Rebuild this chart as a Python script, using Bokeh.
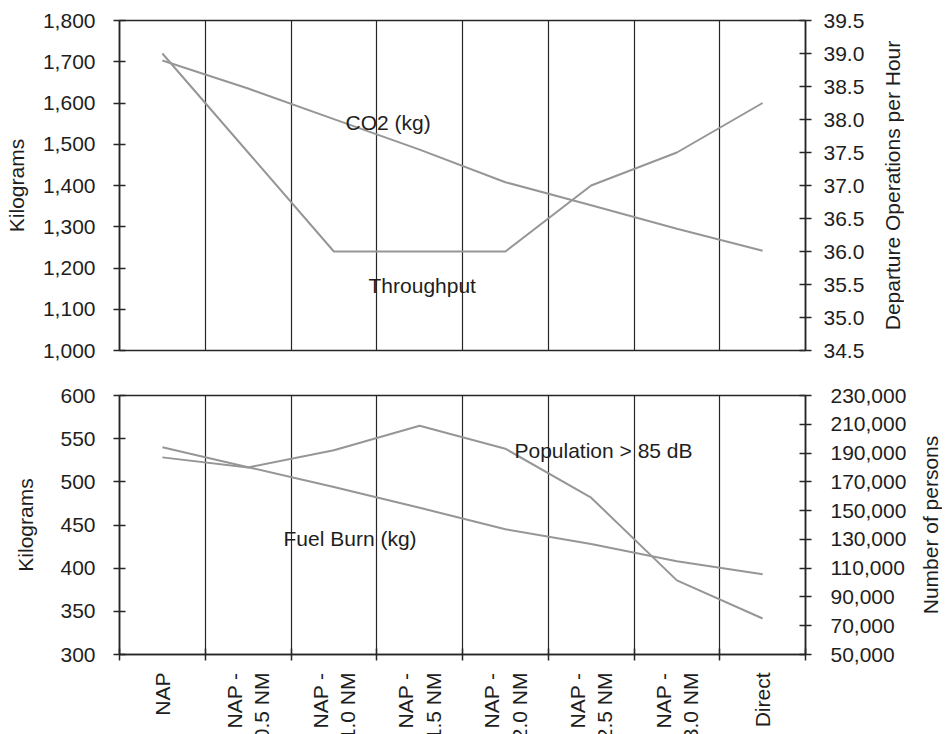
import math
from bokeh.plotting import figure
from bokeh.layouts import column, row
from bokeh.models import Range1d, LinearAxis, FixedTicker, NumeralTickFormatter, Label
from bokeh.embed import file_html
from bokeh.resources import INLINE

# ---- data ----
categories = ["NAP", "NAP -\n0.5 NM", "NAP -\n1.0 NM", "NAP -\n1.5 NM",
              "NAP -\n2.0 NM", "NAP -\n2.5 NM", "NAP -\n3.0 NM", "Direct"]
co2_kg = [1703, 1635, 1561, 1487, 1408, 1352, 1295, 1242]
throughput = [39.0, 37.5, 36.0, 36.0, 36.0, 37.0, 37.5, 38.25]
fuel_burn_kg = [540, 517, 494, 470, 445, 428, 408, 393]
population_85db = [187000, 180000, 192000, 209000, 193000, 159000, 101500, 75000]

top_left_ticks = [1000, 1100, 1200, 1300, 1400, 1500, 1600, 1700, 1800]
top_right_ticks = [34.5, 35.0, 35.5, 36.0, 36.5, 37.0, 37.5, 38.0, 38.5, 39.0, 39.5]
bot_left_ticks = [300, 350, 400, 450, 500, 550, 600]
bot_right_ticks = [50000, 70000, 90000, 110000, 130000, 150000, 170000, 190000, 210000, 230000]

# ---- style ----
FONT = "Liberation Sans"
FS = "21px"
TXT = "#1e1e1e"
AX = "#262626"
LINE = "#969696"

n = len(categories)
xc = [i + 0.5 for i in range(n)]          # category centres on the x scale
bounds = list(range(n + 1))               # category boundaries
inner_bounds = bounds[1:-1]


def style_axis(ax):
    ax.axis_line_color = AX
    ax.axis_line_width = 1.5
    ax.major_tick_line_color = AX
    ax.major_tick_line_width = 1.5
    ax.major_tick_in = 6
    ax.major_tick_out = 6
    ax.minor_tick_line_color = None
    ax.major_label_text_font = FONT
    ax.major_label_text_font_size = FS
    ax.major_label_text_color = TXT
    ax.axis_label_text_font = FONT
    ax.axis_label_text_font_size = FS
    ax.axis_label_text_font_style = "normal"
    ax.axis_label_text_color = TXT


def base_fig(fh, yr, top, bottom, right):
    p = figure(frame_width=686, frame_height=fh, x_range=Range1d(0, n), y_range=yr,
               output_backend="svg", toolbar_location=None,
               min_border_left=119, min_border_right=right,
               min_border_top=top, min_border_bottom=bottom)
    p.outline_line_color = AX
    p.outline_line_width = 1.5
    p.background_fill_color = "white"
    p.border_fill_color = "white"
    p.ygrid.visible = False
    p.xgrid.ticker = FixedTicker(ticks=inner_bounds)
    p.xgrid.grid_line_color = AX
    p.xgrid.grid_line_width = 1.2
    return p


def title_strip(text, fh, top, bottom, left):
    # narrow companion figure whose (left) axis title reads bottom-to-top,
    # centred on the same frame height as the chart beside it
    d = figure(frame_width=1, frame_height=fh, x_range=Range1d(0, 1), y_range=Range1d(0, 1),
               output_backend="svg", toolbar_location=None, x_axis_location=None,
               min_border_left=left, min_border_right=0,
               min_border_top=top, min_border_bottom=bottom)
    d.outline_line_color = None
    d.xgrid.visible = False
    d.ygrid.visible = False
    d.background_fill_color = "white"
    d.border_fill_color = "white"
    ax = d.yaxis[0]
    style_axis(ax)
    ax.ticker = FixedTicker(ticks=[])
    ax.axis_line_color = None
    ax.major_tick_line_color = None
    ax.major_tick_in = 0
    ax.major_tick_out = 0
    ax.major_label_standoff = 0
    ax.axis_label = text
    ax.axis_label_standoff = 0
    return d


# ---- top chart ----
p1 = base_fig(330, Range1d(1000, 1800), 20, 22, 60)
p1.xaxis.visible = False
p1.extra_y_ranges = {"thr": Range1d(34.5, 39.5)}
p1.line(xc, co2_kg, line_color=LINE, line_width=2)
p1.line(xc, throughput, line_color=LINE, line_width=2, y_range_name="thr")

yl = p1.yaxis[0]
style_axis(yl)
yl.ticker = FixedTicker(ticks=top_left_ticks)
yl.formatter = NumeralTickFormatter(format="0,0")
yl.axis_label = "Kilograms"
yl.major_label_standoff = 18
yl.axis_label_standoff = 12

yr1 = LinearAxis(y_range_name="thr", ticker=FixedTicker(ticks=top_right_ticks),
                 formatter=NumeralTickFormatter(format="0.0"))
style_axis(yr1)
yr1.major_label_standoff = 12
p1.add_layout(yr1, "right")
d1 = title_strip("Departure Operations per Hour", 330, 20, 22, 36)

p1.add_layout(Label(x=2.636, y=1553, text="CO2 (kg)", text_font=FONT, text_font_size=FS,
                    text_color=TXT, text_baseline="middle"))
p1.add_layout(Label(x=2.904, y=1158, text="Throughput", text_font=FONT, text_font_size=FS,
                    text_color=TXT, text_baseline="middle"))

# ---- bottom chart ----
p2 = base_fig(259, Range1d(300, 600), 23, 0, 101)
p2.extra_y_ranges = {"pop": Range1d(50000, 230000)}
p2.line(xc, fuel_burn_kg, line_color=LINE, line_width=2)
p2.line(xc, population_85db, line_color=LINE, line_width=2, y_range_name="pop")

xa = p2.xaxis[0]
style_axis(xa)
xa.ticker = FixedTicker(ticks=xc, minor_ticks=bounds)
xa.major_label_overrides = {x: c for x, c in zip(xc, categories)}
xa.major_label_orientation = math.pi / 2
xa.major_tick_line_color = None
xa.minor_tick_line_color = AX
xa.minor_tick_line_width = 1.5
xa.minor_tick_in = 6
xa.minor_tick_out = 6
xa.major_label_standoff = 12

yl2 = p2.yaxis[0]
style_axis(yl2)
yl2.ticker = FixedTicker(ticks=bot_left_ticks)
yl2.axis_label = "Kilograms"
yl2.major_label_standoff = 18
yl2.axis_label_standoff = 20

yr2 = LinearAxis(y_range_name="pop", ticker=FixedTicker(ticks=bot_right_ticks),
                 formatter=NumeralTickFormatter(format="0,0"))
style_axis(yr2)
yr2.major_label_standoff = 19
p2.add_layout(yr2, "right")
d2 = title_strip("Number of persons", 259, 23, 88, 32)

p2.add_layout(Label(x=1.913, y=434, text="Fuel Burn (kg)", text_font=FONT, text_font_size=FS,
                    text_color=TXT, text_baseline="middle"))
p2.add_layout(Label(x=4.606, y=536, text="Population > 85 dB", text_font=FONT, text_font_size=FS,
                    text_color=TXT, text_baseline="middle"))

layout = column(row(p1, d1), row(p2, d2))
open("out.html", "w").write(file_html(layout, INLINE))
